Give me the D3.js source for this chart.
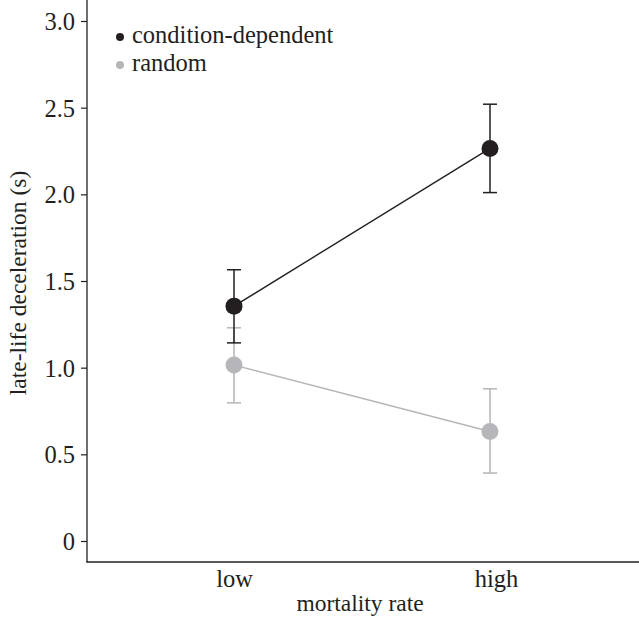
<!DOCTYPE html>
<html><head><meta charset="utf-8">
<script src="https://cdn.jsdelivr.net/npm/d3@7"></script>
<style>body{margin:0;background:#fff}svg{display:block}</style>
</head><body>
<script>
const categories = ["low", "high"];
const seriesNames = ["condition-dependent", "random"];
const condMean = [1.355, 2.265];
const condLow = [1.143, 2.01];
const condHigh = [1.565, 2.52];
const randMean = [1.015, 0.632];
const randLow = [0.797, 0.392];
const randHigh = [1.23, 0.878];
const yTicks = [0, 0.5, 1.0, 1.5, 2.0, 2.5, 3.0];
const yTickLabels = ["0", "0.5", "1.0", "1.5", "2.0", "2.5", "3.0"];

const W = 639, H = 619;
const FONT = "Liberation Serif";
const svg = d3.select("body").append("svg").attr("width", W).attr("height", H)
  .attr("font-family", FONT);
const black = "#231f20", grey = "#b5b5ba";

const y = d3.scaleLinear().domain([0, 3]).range([541, 21]);
const x = d3.scalePoint().domain(categories).range([234, 490]);

svg.append("line").attr("x1", 87).attr("x2", 87).attr("y1", 0).attr("y2", 562.5)
  .attr("stroke", black).attr("stroke-width", 1.3);
svg.append("line").attr("x1", 86.5).attr("x2", 639).attr("y1", 562).attr("y2", 562)
  .attr("stroke", black).attr("stroke-width", 1.3);

const yAxis = d3.axisLeft(y).tickValues(yTicks).tickFormat((d, i) => yTickLabels[i]).tickSize(6).tickPadding(6);
const gy = svg.append("g").attr("transform", "translate(87,0)").call(yAxis)
  .attr("font-family", FONT).attr("font-size", 24.5);
gy.select(".domain").remove();
gy.selectAll("line").attr("stroke", black).attr("stroke-width", 1.2);
gy.selectAll("text").attr("fill", black).attr("dy", "0.34em");

const xAxis = d3.axisBottom(x).tickSize(0).tickPadding(8);
const gx = svg.append("g").attr("transform", "translate(0,562)").call(xAxis)
  .attr("font-family", FONT).attr("font-size", 24.5);
gx.select(".domain").remove();
gx.selectAll("text").attr("fill", black).attr("dx", d => d === "high" ? 6 : 0);

svg.append("text").attr("x", 360).attr("y", 611).attr("text-anchor", "middle")
  .attr("font-size", 23.5).attr("fill", black).text("mortality rate");
svg.append("text").attr("transform", "translate(26,283) rotate(-90)").attr("text-anchor", "middle")
  .attr("font-size", 23.5).attr("fill", black).text("late-life deceleration (s)");

function drawSeries(mean, lo, hi, color) {
  const g = svg.append("g");
  const line = d3.line().x((d, i) => x(categories[i])).y(d => y(d));
  g.append("path").datum(mean).attr("d", line).attr("fill", "none").attr("stroke", color).attr("stroke-width", 1.4);
  categories.forEach((c, i) => {
    const cx = x(c);
    g.append("line").attr("x1", cx).attr("x2", cx).attr("y1", y(lo[i])).attr("y2", y(hi[i]))
      .attr("stroke", color).attr("stroke-width", 1.5);
    [lo[i], hi[i]].forEach(v => {
      g.append("line").attr("x1", cx - 7).attr("x2", cx + 7).attr("y1", y(v)).attr("y2", y(v))
        .attr("stroke", color).attr("stroke-width", 1.5);
    });
    g.append("circle").attr("cx", cx).attr("cy", y(mean[i])).attr("r", 8.5).attr("fill", color);
  });
}
drawSeries(randMean, randLow, randHigh, grey);
drawSeries(condMean, condLow, condHigh, black);

const legColors = [black, grey];
seriesNames.forEach((n, i) => {
  const ly = 37 + i * 28;
  svg.append("circle").attr("cx", 120).attr("cy", ly).attr("r", 4).attr("fill", legColors[i]);
  svg.append("text").attr("x", 132).attr("y", ly + 6).attr("font-size", 24.5)
    .attr("fill", black).text(n);
});
</script>
</body></html>
